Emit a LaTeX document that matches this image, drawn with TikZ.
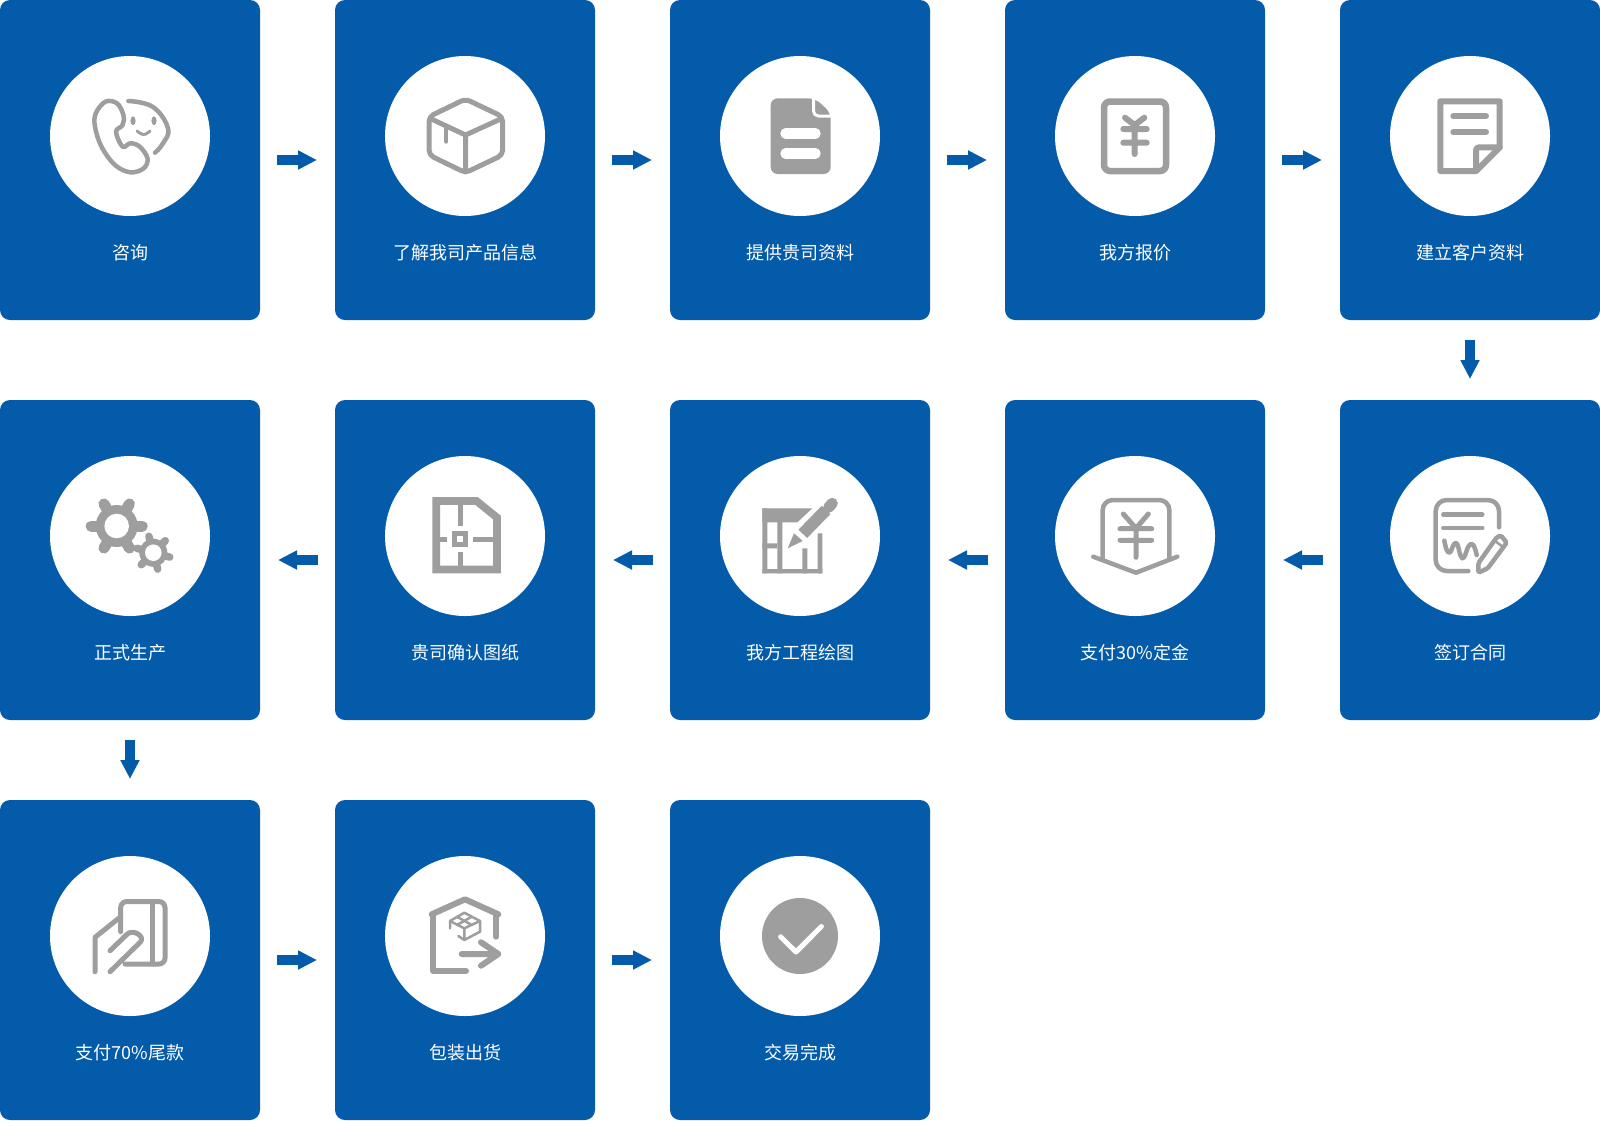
\documentclass[tikz,border=0pt]{standalone}
\usepackage{fontspec}
\usetikzlibrary{arrows.meta}
\newfontfamily\cjk{Noto Sans CJK SC}
\definecolor{stepblue}{HTML}{035BAA}
\definecolor{icongray}{HTML}{9E9E9E}
\tikzset{
  stepbox/.style={fill=stepblue,rounded corners=10pt,minimum width=260pt,minimum height=320pt,inner sep=0pt,outer sep=0pt},
  iconcirc/.style={circle,fill=white,minimum size=160pt,inner sep=0pt,outer sep=0pt},
  steplabel/.style={text=white,font=\cjk\fontsize{18}{18}\selectfont,inner sep=0pt},
  flowarrow/.style={draw=stepblue,line width=9.5pt,-{Triangle[length=19pt,width=18pt]},shorten <=17pt,shorten >=18pt},
  downarrow/.style={draw=stepblue,line width=9.5pt,-{Triangle[length=19pt,width=18pt]},shorten <=20pt,shorten >=21pt},
  iconline/.style={draw=icongray,line width=4.5pt,line cap=round,line join=round},
  iconfill/.style={fill=icongray},
}
\begin{document}
\begin{tikzpicture}[x=1pt,y=-1pt]
  \useasboundingbox (0,0) rectangle (1600,1120);

  % Steps, row by row
  \foreach \nm/\cx/\cy/\lbl in {
    consult/130/160/咨询, learn/465/160/了解我司产品信息, supply/800/160/提供贵司资料,
    quote/1135/160/我方报价, record/1470/160/建立客户资料,
    sign/1470/560/签订合同, deposit/1135/560/支付30\%定金, drawing/800/560/我方工程绘图,
    confirm/465/560/贵司确认图纸, produce/130/560/正式生产,
    balance/130/960/支付70\%尾款, pack/465/960/包装出货, done/800/960/交易完成}{
    \node[stepbox] (\nm) at (\cx,\cy) {};
    \node[iconcirc] (c\nm) at (\cx,\cy-24) {};
    \node[steplabel] (t\nm) at (\cx,\cy+93) {\lbl};
  }

  % Arrows between the steps
  \foreach \a/\b in {consult/learn, learn/supply, supply/quote, quote/record,
    sign/deposit, deposit/drawing, drawing/confirm, confirm/produce,
    balance/pack, pack/done}{
    \ifnum\pdfstrcmp{\a}{sign}=0 \fi
    \draw[flowarrow] (\a) -- (\b);
  }
  \draw[downarrow] (record) -- (sign);
  \draw[downarrow] (produce) -- (balance);

  % Phone and smile
  \begin{scope}[shift={(cconsult.center)}]
    \draw[iconline] plot[smooth cycle,tension=.6] coordinates {(-24.6,-34.3) (-34.2,-22.7) (-35,-9.3) (-28.5,10.7) (-15,29) (0.3,36.3) (13.7,32.3) (17.5,22.3) (9.8,10.7) (0.3,7.3) (-7.4,10.7) (-14,-4.3) (-7.4,-11) (-6.6,-21) (-13,-32.7)};
    \draw[iconline] plot[smooth,tension=.7] coordinates {(-1.6,-35) (23,-29) (38,-7.7) (33,7.3) (25,16.7)};
    \fill[iconfill] (3,-15.3) ellipse (2.6 and 4.4) (24,-15.3) ellipse (2.6 and 4.4);
    \draw[iconline,line width=3pt] plot[smooth,tension=.8] coordinates {(7.2,-5) (13.7,-1.5) (20,-5)};
  \end{scope}

  % Parcel
  \begin{scope}[shift={(clearn.center)}]
    \draw[iconline,line width=5pt,rounded corners=5pt] (0.5,-37) -- (37.7,-19.3) -- (37.7,19) -- (0.5,36.7) -- (-36,19) -- (-36,-19.3) -- cycle;
    \draw[iconline,line width=5pt] (-33,-16.7) -- (0.5,-1) -- (35,-16.7) (0.5,-1) -- (0.5,36);
    \draw[iconline,line width=4pt] (-18.6,-7.7) -- (-18.6,5.7);
  \end{scope}

  % Filled document
  \begin{scope}[shift={(csupply.center)}]
    \fill[iconfill,rounded corners=7pt] (-29.3,-37.7) -- (15,-37.7) -- (30.7,-23.3) -- (30.7,38) -- (-29.3,38) -- cycle;
    \draw[white,line width=3pt,rounded corners=5pt] (13.5,-39) -- (13.5,-20) -- (32,-20);
    \draw[white,line width=10.4pt,line cap=round] (-14.5,-2.5) -- (15.5,-2.5) (-14.5,17.5) -- (15.5,17.5);
  \end{scope}

  % Yen in a frame
  \begin{scope}[shift={(cquote.center)}]
    \draw[iconline,line width=6.5pt,rounded corners=6pt] (-31,-34.5) rectangle (31,35);
    \draw[iconline,line width=6pt] (-10,-18.3) -- (-0.3,-11) -- (9.3,-18.3) (-11.7,-7) -- (11.7,-7) (-11.7,6.7) -- (11.7,6.7) (-0.3,-11) -- (-0.3,18);
  \end{scope}

  % Note with a folded corner
  \begin{scope}[shift={(crecord.center)}]
    \draw[iconline,line width=6pt] (-29.7,-34.7) -- (29.7,-34.7) -- (29.7,11.3) -- (6,35) -- (-29.7,35) -- cycle;
    \draw[iconline,line width=6pt,rounded corners=3pt] (6,35) -- (6,11.3) -- (29.7,11.3);
    \draw[iconline,line width=6pt] (-16.7,-19.7) -- (16,-19.7) (-16.7,-3.7) -- (16,-3.7);
  \end{scope}

  % Contract and pen
  \begin{scope}[shift={(csign.center)}]
    \draw[iconline,rounded corners=11pt] (29,-8.7) -- (29,-36) -- (-34.3,-36) -- (-34.3,35) -- (-1.7,35);
    \draw[iconline] (-26.7,-21.3) -- (12.3,-21.3) (-26.7,-8) -- (12.3,-8);
    \draw[iconline] plot[smooth,tension=.7] coordinates {(-25.7,4.7) (-23.3,14) (-20,16.3) (-16,8.3) (-12.7,8.3) (-9.3,20) (-6,21.3) (-1.3,10) (3.3,9) (6.7,19)};
    \draw[iconline,rounded corners=1.5pt] (8.3,36.7) -- (8.3,27.3) -- (26.7,1.3) -- (31,-0.5) -- (36.7,6.7) -- (17.7,32.3) -- cycle;
    \draw[iconline,line width=2.5pt] (25,5) -- (31.7,10);
  \end{scope}

  % Yen in a pocket
  \begin{scope}[shift={(cdeposit.center)}]
    \draw[iconline,rounded corners=10pt] (-32.3,22.3) -- (-32.3,-36) -- (34.3,-36) -- (34.3,22.3);
    \draw[iconline] (-41.7,20.7) -- (1,36.7) -- (42.3,20.7);
    \draw[iconline,line width=5pt] (-11.7,-22) -- (1,-7.7) -- (13.3,-22) (-15,-7.3) -- (16.7,-7.3) (-15,4.3) -- (16.7,4.3) (1,-7.7) -- (1,21.3);
  \end{scope}

  % Chart and pencil
  \begin{scope}[shift={(cdrawing.center)}]
    \fill[iconfill] (-37.7,-27.7) -- (12.3,-27.7) -- (-2.7,-13.7) -- (-37.7,-13.7) -- cycle;
    \fill[iconfill] (-37.7,-27.7) rectangle (-32.7,37.3) (-22.7,-14) rectangle (-17.7,37.3);
    \fill[iconfill] (-37.7,7.3) rectangle (-22.7,12.3) (-37.7,33) rectangle (22.3,37.3);
    \fill[iconfill] (2.3,12.3) rectangle (7.3,37.3) (17.7,-2.7) rectangle (22.3,37.3);
    \draw[icongray,line width=12pt] (2.8,-2.2) -- (26,-26);
    \draw[icongray,line width=11pt,line cap=round] (28.6,-28.6) -- (32.3,-32.7);
    \fill[iconfill] (-12.3,12.3) -- (-6,-2.7) -- (2.7,5) -- cycle;
  \end{scope}

  % Floor plan
  \begin{scope}[shift={(cconfirm.center)}]
    \draw[icongray,line width=7.7pt,line join=miter] (-28.8,-35) -- (11.5,-35) -- (32,-18.5) -- (32,33.5) -- (-28.8,33.5) -- cycle;
    \draw[icongray,line width=5pt] (-4.3,-31) -- (-4.3,-10) (-4.3,15.7) -- (-4.3,31) (-25,3.3) -- (-17.7,3.3) (8.3,3.3) -- (30,3.3);
    \draw[icongray,line width=5pt] (-10.2,-2.5) rectangle (0.8,8.2);
  \end{scope}

  % Two gears
  \begin{scope}[shift={(cproduce.center)}]
    \begin{scope}[shift={(-13.3,-10)}]
      \fill[iconfill] (0,0) circle (21);
      \foreach \ang in {0,60,...,300}
        \draw[icongray,line width=11pt,line cap=round] (0,0) -- (\ang:25.5);
      \fill[white] (0,0) circle (12.3);
    \end{scope}
    \begin{scope}[shift={(23.3,16.7)}]
      \fill[white] (0,0) circle (17);
      \fill[iconfill] (0,0) circle (14);
      \foreach \ang in {15,75,...,315}
        \draw[icongray,line width=7.5pt,line cap=round] (0,0) -- (\ang:17);
      \fill[white] (0,0) circle (8.3);
    \end{scope}
  \end{scope}

  % Hand and card
  \begin{scope}[shift={(cbalance.center)}]
    \draw[iconline,line width=5pt,rounded corners=6pt] (-9.3,-4.3) -- (-9.3,-34.5) -- (35,-34.5) -- (35,28) -- (-5,28);
    \draw[iconline,line width=5pt] (22.7,-34.5) -- (22.7,28);
    \draw[iconline,line width=5pt] (-35,35.7) -- (-35,1.3) -- (-9.3,-19.3);
    \draw[iconline,line width=5pt] (-20,14.7) -- (-2.7,-2) .. controls (3,-7) and (15,0) .. (10.7,5.7) -- (-20,35.7);
  \end{scope}

  % Parcel leaving the warehouse
  \begin{scope}[shift={(cpack.center)}]
    \draw[iconline,line width=6pt] (-33.3,-21.7) -- (0,-36.7) -- (33.3,-21.7);
    \draw[iconline,line width=6pt] (-31.7,-21.7) -- (-31.7,35) -- (1,35) (31,-21.7) -- (31,0.7);
    \draw[iconline,line width=6pt] (-3.3,18) -- (33.3,18) (16,6.3) -- (33.3,18) -- (16,29.7);
    \draw[iconline,line width=2.5pt] (-0.7,-23.3) -- (15,-15) -- (-0.7,-7.7) -- (-15,-15) -- cycle;
    \draw[iconline,line width=2.5pt] (15,-15) -- (15,-4.3) -- (-0.7,4) -- (-6.7,0) (-15,-15) -- (-15,-7.7) (-0.7,-7.7) -- (-0.7,4);
    \draw[iconline,line width=2.5pt] (-8,-19.3) -- (6.7,-11) (6.7,-19.3) -- (-8,-11);
  \end{scope}

  % Check mark
  \begin{scope}[shift={(cdone.center)}]
    \fill[iconfill] (0,0) circle (38);
    \draw[white,line width=5pt,line cap=round,line join=round] (-19.4,0.7) -- (-4,16) -- (21.4,-9.5);
  \end{scope}
\end{tikzpicture}
\end{document}
